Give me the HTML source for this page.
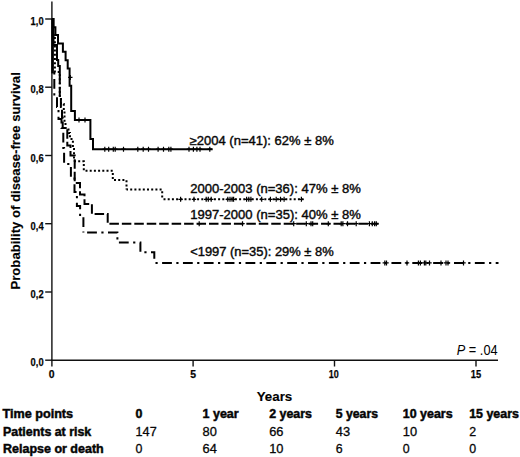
<!DOCTYPE html>
<html><head><meta charset="utf-8">
<style>
html,body{margin:0;padding:0;background:#fff;}
body{width:520px;height:457px;overflow:hidden;}
svg{display:block;}
text{font-family:"Liberation Sans",sans-serif;fill:#000;}
.tk{font-weight:bold;font-size:11.5px;stroke:#111;stroke-width:0.25px;}
.lb{font-size:12px;stroke:#111;stroke-width:0.4px;}
.tb{font-size:12.4px;stroke:#111;stroke-width:0.3px;}
.b{font-weight:bold;}
.tb .b{stroke-width:0.5px;}
</style></head><body>
<svg width="520" height="457" viewBox="0 0 520 457">
<rect width="520" height="457" fill="#fff"/>
<!-- axes -->
<g stroke="#111" stroke-width="1.4" fill="none">
<line x1="51.9" y1="1.4" x2="51.9" y2="360.9"/>
<line x1="51.2" y1="360.2" x2="498" y2="360.2"/>
<line x1="45.2" y1="19" x2="51.9" y2="19"/>
<line x1="45.2" y1="87.2" x2="51.9" y2="87.2"/>
<line x1="45.2" y1="155.5" x2="51.9" y2="155.5"/>
<line x1="45.2" y1="223.7" x2="51.9" y2="223.7"/>
<line x1="45.2" y1="292" x2="51.9" y2="292"/>
<line x1="45.2" y1="360.2" x2="51.9" y2="360.2"/>
<line x1="51.9" y1="360.2" x2="51.9" y2="366.5"/>
<line x1="193.1" y1="360.2" x2="193.1" y2="366.5"/>
<line x1="334.5" y1="360.2" x2="334.5" y2="366.5"/>
<line x1="476" y1="360.2" x2="476" y2="366.5"/>
</g>
<!-- y tick labels -->
<g class="tk" text-anchor="end">
<text x="43.6" y="25.2" textLength="13" lengthAdjust="spacingAndGlyphs">1,0</text>
<text x="43.6" y="93.4" textLength="13" lengthAdjust="spacingAndGlyphs">0,8</text>
<text x="43.6" y="161.7" textLength="13" lengthAdjust="spacingAndGlyphs">0,6</text>
<text x="43.6" y="229.9" textLength="13" lengthAdjust="spacingAndGlyphs">0,4</text>
<text x="43.6" y="298.2" textLength="13" lengthAdjust="spacingAndGlyphs">0,2</text>
<text x="43.6" y="366.4" textLength="13" lengthAdjust="spacingAndGlyphs">0,0</text>
</g>
<!-- x tick labels -->
<g class="tk" text-anchor="middle">
<text x="51.6" y="378" textLength="5.8" lengthAdjust="spacingAndGlyphs">0</text>
<text x="193.1" y="378" textLength="5.8" lengthAdjust="spacingAndGlyphs">5</text>
<text x="333.8" y="378" textLength="10" lengthAdjust="spacingAndGlyphs">10</text>
<text x="476" y="378" textLength="10.4" lengthAdjust="spacingAndGlyphs">15</text>
</g>
<!-- y axis title -->
<text class="b" font-size="13.6" stroke="#111" stroke-width="0.15" transform="translate(20.1,289.5) rotate(-90)" textLength="217.3" lengthAdjust="spacingAndGlyphs">Probability of disease-free survival</text>
<!-- P value -->
<text x="456.8" y="354.9" font-size="13.9" textLength="40.8" lengthAdjust="spacingAndGlyphs"><tspan font-style="italic">P</tspan> = .04</text>

<!-- curves -->
<g fill="none" stroke="#000" stroke-width="2" stroke-linejoin="miter">
<!-- dash-dot <1997 -->
<path stroke-width="2.6" d="M52.6,19 V73.4"/>
<path stroke-dasharray="9.8 4.45 2.2 4.45" stroke-dashoffset="14.25" d="M54.3,72.4 V95.5 H57 V107 H58.5 V119 H61.5 V128 H63.3 V148 H64.1 V164 H70.9 V177 H74.5 V192 H76.9 V206 H80.1 V215 H83.4 V232.5"/>
<path stroke-dasharray="9.8 4.45 2.2 4.45" stroke-dashoffset="16.4" d="M82.6,232.5 H117.4 V242.5 H140.4 V252.2 H154.3 V262.9"/>
<path stroke-dasharray="9.8 4.425 2.2 4.425" stroke-dashoffset="13.05" d="M154.3,262.9 H498.5"/>
<!-- dashed 1997-2000 -->
<path d="M51.9,19 H53.5 V45 H57 V60 H58.2 V66 H59.8 V74.5"/>
<path stroke-dasharray="9.5 2.95" d="M59.8,74.5 V96.5 H60.9 V107 H62 V118 H62.7 V128 H67.3 V145.5 H70.5 V155.5 H74.7 V183 H80 V194.5 H84.5 V204 H91.9 V214 H107.7 V223.7"/>
<path stroke-dasharray="9.5 2.95" d="M109.4,223.7 H378.6"/>
<!-- dotted 2000-2003 -->
<path stroke-dasharray="2 2.2" d="M51.9,19 H52.8 V35 H54.9 V72 H59.8 V96 H61 V104 H63.8 V110 H64.5 V122 H65.5 V128 H68.5 V133 H70 V139 H72.9 V149 H74 V161.3"/>
<path stroke-dasharray="2 2.2" d="M74,161.3 H83.8 V170.8 H112.8 V180.1 H126.5 V189.6"/>
<path stroke-dasharray="2 2.2" stroke-dashoffset="0.5" d="M126.5,189.6 H162.2 V199.3"/>
<path stroke-dasharray="2 2.2" stroke-dashoffset="2.9" d="M162.2,199.3 H303.5"/>
<!-- solid >=2004 -->
<path d="M51.9,19 H53.3 V27.3 H55.4 V35.1 H58 V43.5 H62.9 V51.8 H65.6 V60.3 H67.7 V68.6 H69.6 V85.7 H71.2 V111 H74.9 V120 H90.4 V138.9 H93 V149.2 H212.7"/>
</g>
<!-- censor ticks -->
<g stroke="#000" stroke-width="1.2" fill="none">
<path d="M70.3,74.9v5.0 M68.1,77.4h4.4 M79.0,117.5v5.0 M76.8,120.0h4.4 M85.0,117.5v5.0 M82.8,120.0h4.4"/>
<path d="M104.8,146.7v5.0 M102.6,149.2h4.4 M108.7,146.7v5.0 M106.5,149.2h4.4 M113.3,146.7v5.0 M111.1,149.2h4.4 M115.2,146.7v5.0 M113.0,149.2h4.4 M123.5,146.7v5.0 M121.3,149.2h4.4 M137.8,146.7v5.0 M135.6,149.2h4.4 M143.2,146.7v5.0 M141.0,149.2h4.4 M148.5,146.7v5.0 M146.3,149.2h4.4 M158.1,146.7v5.0 M155.9,149.2h4.4 M163.5,146.7v5.0 M161.3,149.2h4.4 M168.8,146.7v5.0 M166.6,149.2h4.4 M170.9,146.7v5.0 M168.7,149.2h4.4 M189.0,146.7v5.0 M186.8,149.2h4.4 M193.4,146.7v5.0 M191.2,149.2h4.4 M196.9,146.7v5.0 M194.7,149.2h4.4 M200.0,146.7v5.0 M197.8,149.2h4.4 M209.8,146.7v5.0 M207.6,149.2h4.4"/>
<path d="M180.6,196.8v5.0 M178.4,199.3h4.4 M194.0,196.8v5.0 M191.8,199.3h4.4 M206.2,196.8v5.0 M204.0,199.3h4.4 M208.3,196.8v5.0 M206.1,199.3h4.4 M211.2,196.8v5.0 M209.0,199.3h4.4 M227.8,196.8v5.0 M225.6,199.3h4.4 M230.0,196.8v5.0 M227.8,199.3h4.4 M232.1,196.8v5.0 M229.9,199.3h4.4 M233.6,196.8v5.0 M231.4,199.3h4.4 M246.6,196.8v5.0 M244.4,199.3h4.4 M248.8,196.8v5.0 M246.6,199.3h4.4 M250.9,196.8v5.0 M248.7,199.3h4.4 M261.7,196.8v5.0 M259.5,199.3h4.4 M270.4,196.8v5.0 M268.2,199.3h4.4 M276.2,196.8v5.0 M274.0,199.3h4.4 M280.5,196.8v5.0 M278.3,199.3h4.4 M284.1,196.8v5.0 M281.9,199.3h4.4 M301.4,196.8v5.0 M299.2,199.3h4.4"/>
<path d="M199.2,221.2v5.0 M197.0,223.7h4.4 M242.5,221.2v5.0 M240.3,223.7h4.4 M293.7,221.2v5.0 M291.5,223.7h4.4 M306.3,221.2v5.0 M304.1,223.7h4.4 M311.0,221.2v5.0 M308.8,223.7h4.4 M312.7,221.2v5.0 M310.5,223.7h4.4 M328.3,221.2v5.0 M326.1,223.7h4.4 M341.2,221.2v5.0 M339.0,223.7h4.4 M342.9,221.2v5.0 M340.7,223.7h4.4 M347.5,221.2v5.0 M345.3,223.7h4.4 M356.2,221.2v5.0 M354.0,223.7h4.4 M369.4,221.2v5.0 M367.2,223.7h4.4 M372.3,221.2v5.0 M370.1,223.7h4.4 M374.6,221.2v5.0 M372.4,223.7h4.4 M376.3,221.2v5.0 M374.1,223.7h4.4"/>
<path d="M384.8,260.4v5.0 M382.6,262.9h4.4 M386.5,260.4v5.0 M384.3,262.9h4.4 M407.0,260.4v5.0 M404.8,262.9h4.4 M418.4,260.4v5.0 M416.2,262.9h4.4 M420.4,260.4v5.0 M418.2,262.9h4.4 M424.4,260.4v5.0 M422.2,262.9h4.4 M425.8,260.4v5.0 M423.6,262.9h4.4 M429.5,260.4v5.0 M427.3,262.9h4.4 M441.0,260.4v5.0 M438.8,262.9h4.4 M446.0,260.4v5.0 M443.8,262.9h4.4 M448.0,260.4v5.0 M445.8,262.9h4.4 M463.5,260.4v5.0 M461.3,262.9h4.4"/>
</g>

<!-- curve labels -->
<g class="lb">
<text x="189.7" y="144.6" textLength="144" lengthAdjust="spacingAndGlyphs">≥2004 (n=41): 62% ± 8%</text>
<text x="190.2" y="192.9" textLength="170.6" lengthAdjust="spacingAndGlyphs">2000-2003 (n=36): 47% ± 8%</text>
<text x="190.3" y="219" textLength="170.5" lengthAdjust="spacingAndGlyphs">1997-2000 (n=35): 40% ± 8%</text>
<text x="190.2" y="255.5" textLength="143.5" lengthAdjust="spacingAndGlyphs">&lt;1997 (n=35): 29% ± 8%</text>
</g>

<!-- table -->
<g class="tb">
<text class="b" x="256.7" y="400.5" font-size="13.6" style="stroke-width:0.15px" textLength="35.6" lengthAdjust="spacingAndGlyphs">Years</text>
<g class="b">
<text x="2.5" y="418" textLength="70.6" lengthAdjust="spacingAndGlyphs">Time points</text>
<text x="135.6" y="418">0</text>
<text x="202.5" y="418" textLength="36.2" lengthAdjust="spacingAndGlyphs">1 year</text>
<text x="269.2" y="418" textLength="42.7" lengthAdjust="spacingAndGlyphs">2 years</text>
<text x="335.8" y="418" textLength="42.2" lengthAdjust="spacingAndGlyphs">5 years</text>
<text x="402.8" y="418" textLength="49.8" lengthAdjust="spacingAndGlyphs">10 years</text>
<text x="469.2" y="418" textLength="49.7" lengthAdjust="spacingAndGlyphs">15 years</text>
<text x="3.1" y="435.6" textLength="88.1" lengthAdjust="spacingAndGlyphs">Patients at risk</text>
<text x="3" y="453.4" textLength="100.7" lengthAdjust="spacingAndGlyphs">Relapse or death</text>
</g>
<text x="135.6" y="435.6" textLength="21.1" lengthAdjust="spacingAndGlyphs">147</text>
<text x="202.5" y="435.6" textLength="14.3" lengthAdjust="spacingAndGlyphs">80</text>
<text x="269.2" y="435.6" textLength="14.3" lengthAdjust="spacingAndGlyphs">66</text>
<text x="335.8" y="435.6" textLength="14.3" lengthAdjust="spacingAndGlyphs">43</text>
<text x="402.8" y="435.6" textLength="14.3" lengthAdjust="spacingAndGlyphs">10</text>
<text x="469.2" y="435.6">2</text>
<text x="135.6" y="453.4">0</text>
<text x="202.5" y="453.4" textLength="14.3" lengthAdjust="spacingAndGlyphs">64</text>
<text x="269.2" y="453.4" textLength="14.3" lengthAdjust="spacingAndGlyphs">10</text>
<text x="335.8" y="453.4">6</text>
<text x="402.8" y="453.4">0</text>
<text x="469.2" y="453.4">0</text>
</g>
</svg>
</body></html>
